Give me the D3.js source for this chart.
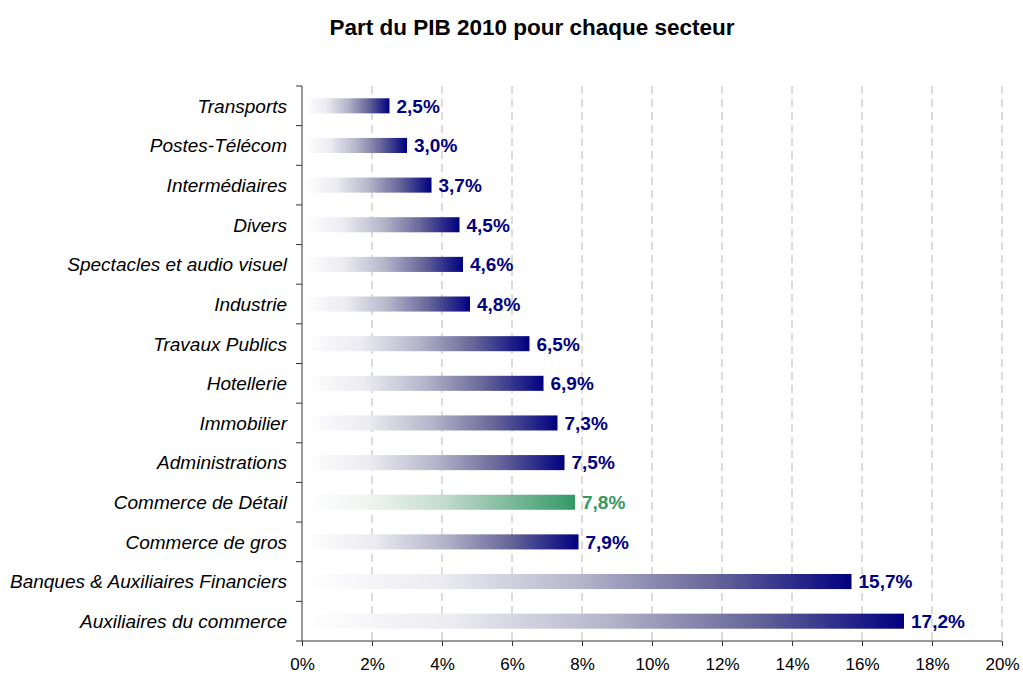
<!DOCTYPE html>
<html>
<head>
<meta charset="utf-8">
<script src="https://cdn.jsdelivr.net/npm/d3@7"></script>
<style>
  body { margin: 0; background: #fff; }
  svg text { font-family: "Liberation Sans", Arial, sans-serif; }
</style>
</head>
<body>
<div id="chart"></div>
<script>
var svgWidth = 1023;
var svgHeight = 675;

// data
var sectors = ["Transports", "Postes-Télécom", "Intermédiaires", "Divers",
  "Spectacles et audio visuel", "Industrie", "Travaux Publics", "Hotellerie",
  "Immobilier", "Administrations", "Commerce de Détail", "Commerce de gros",
  "Banques & Auxiliaires Financiers", "Auxiliaires du commerce"];
var shares = [2.5, 3.0, 3.7, 4.5, 4.6, 4.8, 6.5, 6.9, 7.3, 7.5, 7.8, 7.9, 15.7, 17.2];
var highlight = "Commerce de Détail";
var xTicks = [0, 2, 4, 6, 8, 10, 12, 14, 16, 18, 20];

var margin = { top: 86, right: 21, bottom: 34, left: 302 };
var chartWidth = svgWidth - margin.left - margin.right;
var chartHeight = svgHeight - margin.top - margin.bottom;

var data = sectors.map(function(s, i) { return { name: s, value: shares[i] }; });

var svg = d3.select("#chart").append("svg")
  .attr("width", svgWidth)
  .attr("height", svgHeight);

// excel-like gradients, white fading into the bar colour
var defs = svg.append("defs");
function grad(id, stops) {
  var g = defs.append("linearGradient").attr("id", id)
    .attr("x1", "0%").attr("x2", "100%").attr("y1", "0%").attr("y2", "0%");
  stops.forEach(function(s) {
    g.append("stop").attr("offset", s[0]).attr("stop-color", s[1]);
  });
}
grad("gNavy", [[0, "#ffffff"], [0.25, "#ebebf1"], [0.5, "#b6b6cb"], [0.75, "#666699"], [1, "#000080"]]);
grad("gGreen", [[0, "#ffffff"], [0.25, "#edf4f0"], [0.5, "#c6ddd0"], [0.75, "#80bb9c"], [1, "#339966"]]);

svg.append("text")
  .attr("x", 532)
  .attr("y", 35)
  .attr("text-anchor", "middle")
  .style("font-size", "22.5px")
  .style("font-weight", "bold")
  .text("Part du PIB 2010 pour chaque secteur");

var chartGroup = svg.append("g")
  .attr("transform", `translate(${margin.left}, ${margin.top})`);

var xScale = d3.scaleLinear().domain([0, 20]).range([0, chartWidth]);
var yScale = d3.scaleBand().domain(sectors).range([0, chartHeight]).paddingInner(0.62).paddingOuter(0.31);
var yBound = d3.scaleBand().domain(sectors).range([0, chartHeight]);

// dashed gridlines
chartGroup.selectAll("line.grid")
  .data(xTicks.slice(1))
  .enter()
  .append("line")
  .attr("class", "grid")
  .attr("x1", d => xScale(d)).attr("x2", d => xScale(d))
  .attr("y1", 0).attr("y2", chartHeight)
  .attr("stroke", "#b8b8b8")
  .attr("stroke-dasharray", "8,5");

chartGroup.selectAll("rect.bar")
  .data(data)
  .enter()
  .append("rect")
  .attr("class", "bar")
  .attr("x", xScale(0) + 3)
  .attr("y", d => yScale(d.name))
  .attr("width", d => xScale(d.value) - xScale(0) - 3)
  .attr("height", yScale.bandwidth())
  .attr("fill", d => d.name === highlight ? "url(#gGreen)" : "url(#gNavy)");

chartGroup.selectAll("text.val")
  .data(data)
  .enter()
  .append("text")
  .attr("class", "val")
  .attr("x", d => xScale(d.value) + 7)
  .attr("y", d => yScale(d.name) + yScale.bandwidth() / 2)
  .attr("dy", "0.36em")
  .style("font-size", "19px")
  .style("font-weight", "bold")
  .attr("fill", d => d.name === highlight ? "#339966" : "#000080")
  .text(d => d.value.toFixed(1).replace(".", ",") + "%");

// x axis
var xAxis = d3.axisBottom(xScale)
  .tickValues(xTicks)
  .tickSize(5)
  .tickFormat(d => d + "%");
var gx = chartGroup.append("g")
  .attr("transform", `translate(0, ${chartHeight})`)
  .call(xAxis);
gx.select(".domain").attr("stroke", "#333").attr("d", `M0,0H${chartWidth}`);
gx.selectAll(".tick line").attr("stroke", "#333");
gx.selectAll(".tick text")
  .attr("y", 17)
  .attr("dy", "0.71em")
  .style("font-size", "17px")
  .attr("fill", "#000");

// y axis: ticks at band boundaries, labels at band centres
var boundaries = sectors.map(s => yBound(s)).concat([chartHeight]);
chartGroup.append("line")
  .attr("x1", 0).attr("x2", 0).attr("y1", 0).attr("y2", chartHeight)
  .attr("stroke", "#333");
chartGroup.selectAll("line.ytick")
  .data(boundaries)
  .enter()
  .append("line")
  .attr("class", "ytick")
  .attr("x1", -6).attr("x2", 0)
  .attr("y1", d => d).attr("y2", d => d)
  .attr("stroke", "#333");
chartGroup.selectAll("text.ylab")
  .data(sectors)
  .enter()
  .append("text")
  .attr("class", "ylab")
  .attr("x", -15)
  .attr("y", d => yBound(d) + yBound.bandwidth() / 2)
  .attr("dy", "0.36em")
  .attr("text-anchor", "end")
  .style("font-size", "19px")
  .style("font-style", "italic")
  .text(d => d);
</script>
</body>
</html>
